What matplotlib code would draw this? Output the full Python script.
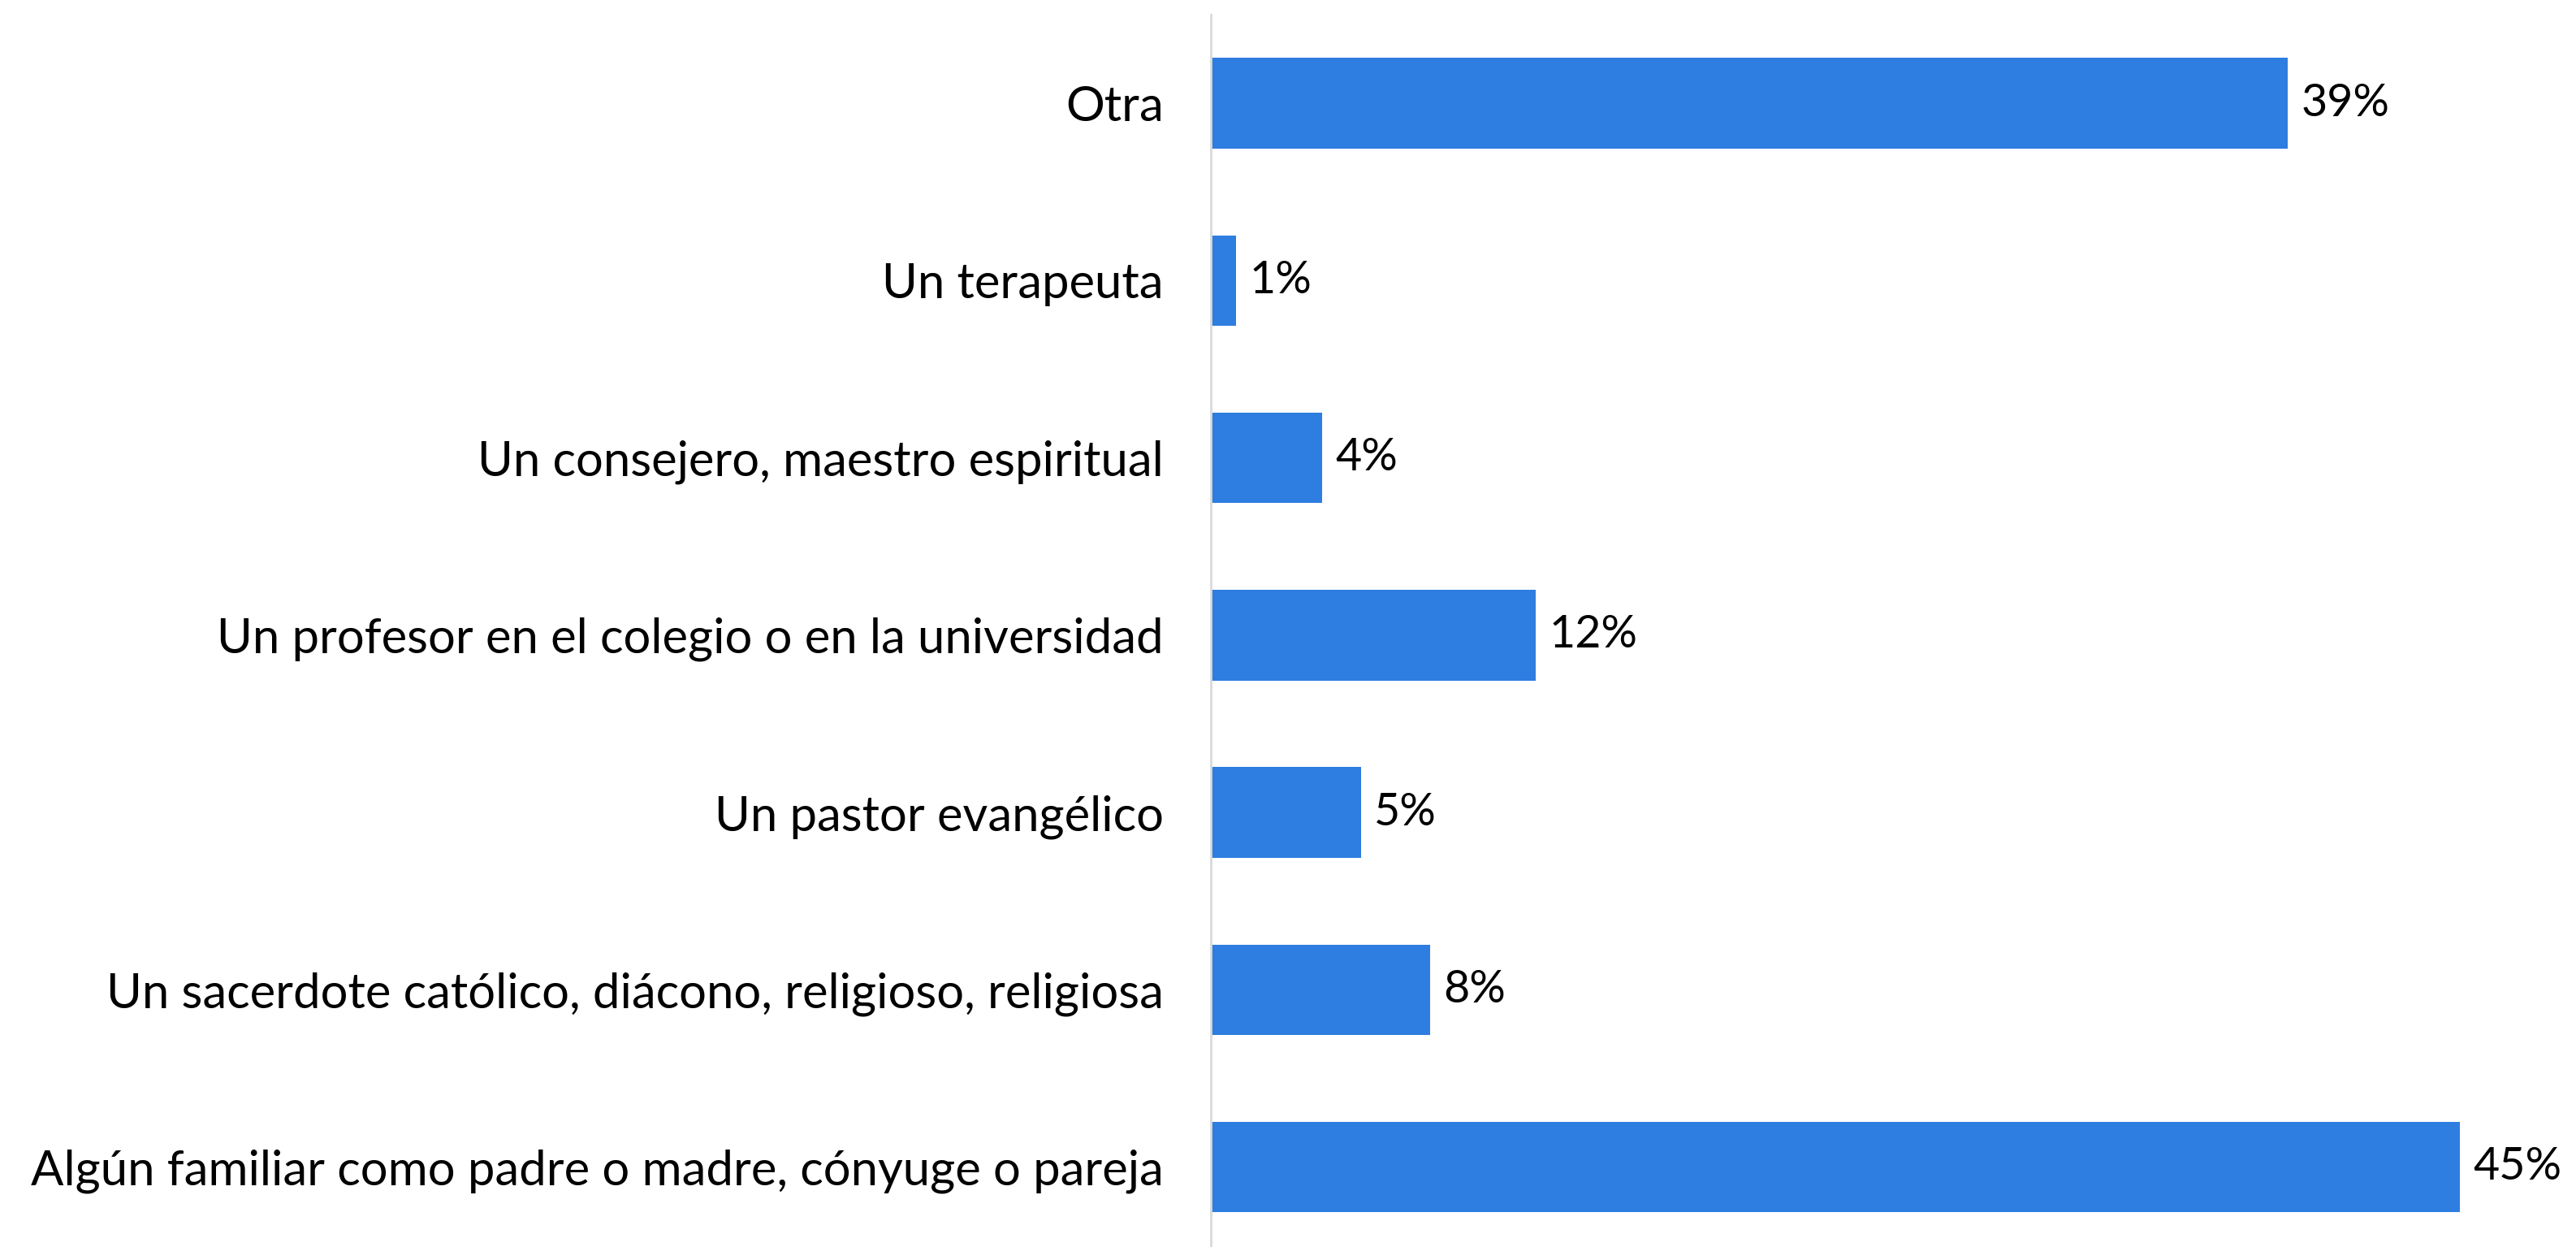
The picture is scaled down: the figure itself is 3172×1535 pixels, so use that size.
import matplotlib
matplotlib.use("Agg")
import matplotlib.pyplot as plt

categories = [
    "Algún familiar como padre o madre, cónyuge o pareja",
    "Un sacerdote católico, diácono, religioso, religiosa",
    "Un pastor evangélico",
    "Un profesor en el colegio o en la universidad",
    "Un consejero, maestro espiritual",
    "Un terapeuta",
    "Otra",
]
values = [45.0, 7.9, 5.4, 11.7, 4.0, 0.9, 38.8]

plt.rcParams['font.family'] = ['Lato', 'DejaVu Sans']

W, H = 3172, 1535
fig = plt.figure(figsize=(W / 100, H / 100), dpi=100)
ax_left = 1491 / W
ax_right = 3172 / W
ax_top = 1 - 18 / H
ax_bottom = 1 - (18 + 7 * 218.25) / H
ax = fig.add_axes([ax_left, ax_bottom, ax_right - ax_left, ax_top - ax_bottom])

y = list(range(len(categories)))
ax.barh(y, values, height=0.51, color="#2E7DE0")
ax.set_ylim(-0.5, len(categories) - 0.5)
ax.set_xlim(0, (3172 - 1491) / (1538 / 45.0))

ax.set_yticks(y)
ax.set_yticklabels(categories, fontsize=43)
ax.tick_params(axis='y', length=0, pad=42)
ax.set_xticks([])
for s in ["top", "right", "bottom"]:
    ax.spines[s].set_visible(False)
ax.spines["left"].set_color("#d9d9d9")
ax.spines["left"].set_linewidth(2)

for yi, v in zip(y, values):
    ax.annotate(f"{round(v):d}%", xy=(v, yi), xytext=(12, 0), textcoords="offset points",
                ha="left", va="center", fontsize=40)

fig.savefig("out.png", dpi=100)
